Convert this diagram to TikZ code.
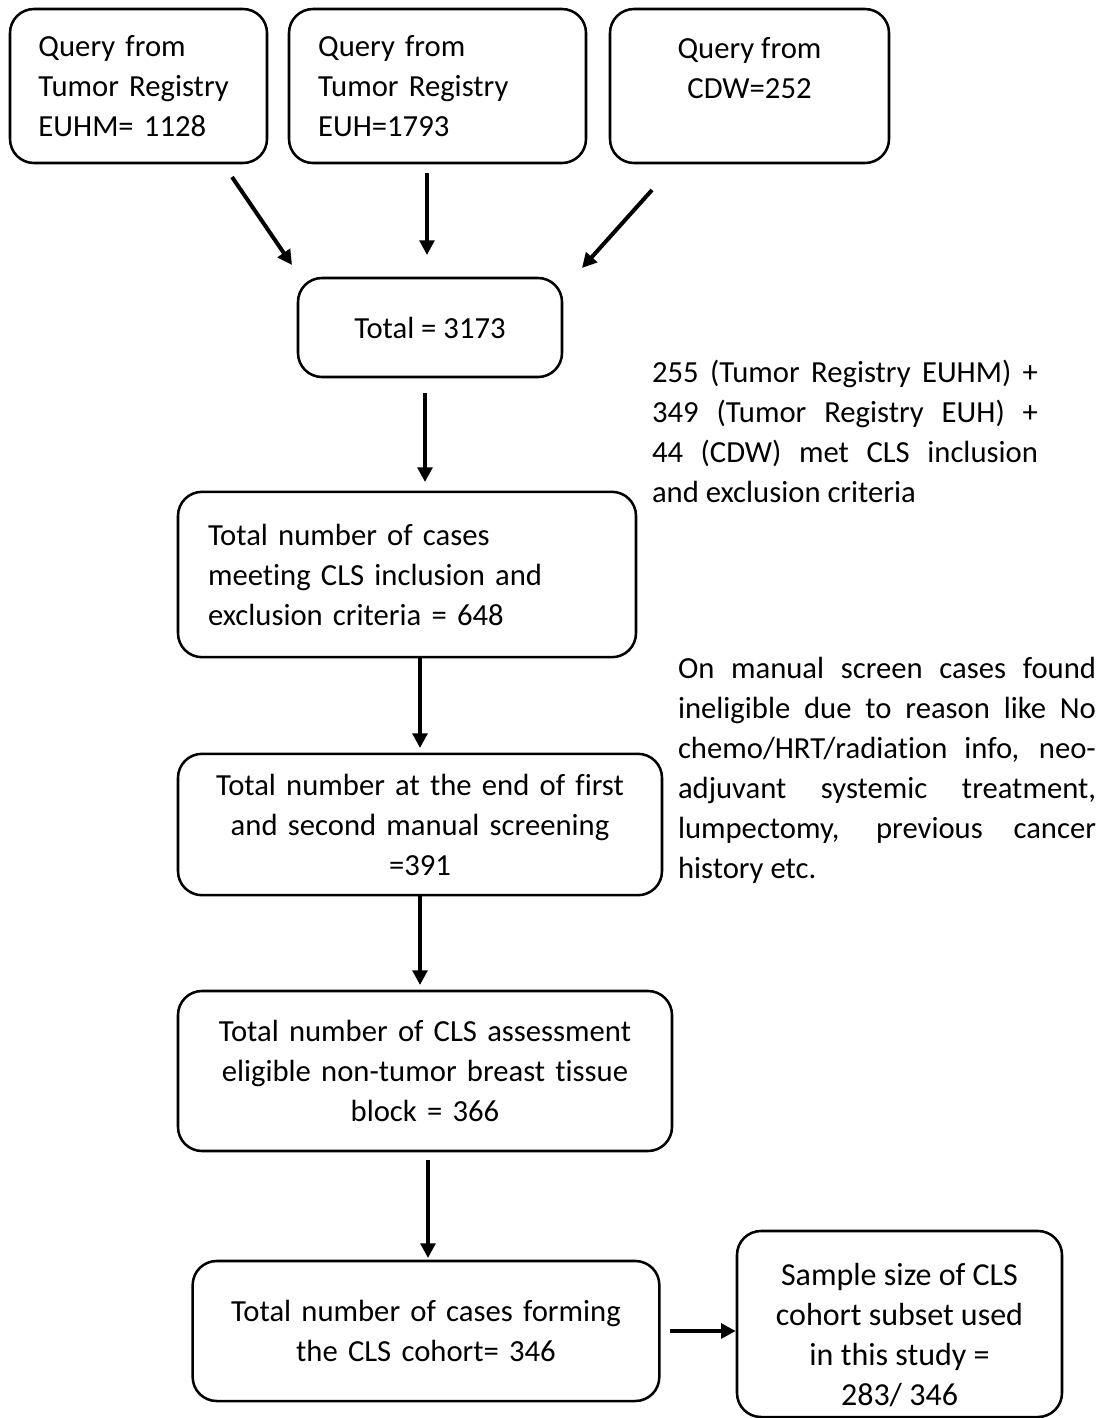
\documentclass[tikz,border=0pt]{standalone}
\usepackage{fontspec}
\setmainfont[Ligatures=NoCommon]{Carlito}
\usetikzlibrary{arrows.meta}
\usetikzlibrary{positioning}

\tikzset{
  flowbox/.style = {draw, line width=1.9pt, rounded corners=18pt, inner sep=0pt},
  flowarrow/.style = {line width=3pt, -{Triangle[length=11pt,width=11pt]}},
  sidenote/.style = {inner sep=0pt, align=justify},
  boxtext/.style = {align=center, font=\fontsize{23}{30}\selectfont}
}

\begin{document}
\begin{tikzpicture}[x=0.75pt, y=-0.75pt, font=\fontsize{23}{30}\selectfont]
      \useasboundingbox (0,0) rectangle (1108,1418);

      % query boxes
      \node[flowbox, minimum width=192.75pt, minimum height=115.5pt, text width=150pt, align=left] (qeuhm) at (138.5,86)
        {Query from\\Tumor Registry\\EUHM= 1128};
      \node[flowbox, minimum width=222.75pt, minimum height=115.5pt, text width=179pt, align=left] (qeuh) at (437.5,86)
        {Query from\\Tumor Registry\\EUH=1793};
      \node[flowbox, minimum width=209.25pt, minimum height=115.5pt,
            label={[boxtext, yshift=13.5pt]center:{Query from\\CDW=252}}] (qcdw) at (749.5,86) {};

      \node[flowbox, minimum width=198pt, minimum height=74.25pt] (total) at (430,327.5) {Total = 3173};

      \node[flowbox, minimum width=343.5pt, minimum height=124pt, text width=298.5pt, align=left] (meeting) at (407,574.5)
        {Total number of cases\\meeting CLS inclusion and\\exclusion criteria = 648};
      \node[flowbox, minimum width=363pt, minimum height=106pt, text width=340pt, align=center] (screening) at (420,824.5)
        {Total number at the end of first\\and second manual screening\\=391};
      \node[flowbox, minimum width=370.5pt, minimum height=120pt, text width=350pt, align=center] (eligible) at (425,1071)
        {Total number of CLS assessment\\eligible non-tumor breast tissue\\block = 366};
      \node[flowbox, minimum width=350pt, minimum height=105pt, text width=330pt, align=center] (cohort) at (426,1331)
        {Total number of cases forming\\the CLS cohort= 346};
      \node[flowbox, minimum width=243.75pt, minimum height=139.5pt,
            label={[boxtext, font=\fontsize{24}{30}\selectfont, yshift=-8.25pt]center:{Sample size of CLS\\cohort subset used\\in this study =\\283/ 346}}] (sample) at (899.5,1324) {};

      % notes on the right
      \node[sidenote, text width=289.5pt] (metnote) at (845,431)
        {255 (Tumor Registry EUHM) +\linebreak 349 (Tumor Registry EUH) +\linebreak 44 (CDW) met CLS inclusion\linebreak and exclusion criteria};
      \node[sidenote, text width=313.5pt] (screennote) at (887,770)
        {On manual screen cases found\linebreak ineligible due to reason like No\linebreak chemo/HRT/radiation info, neo-\linebreak adjuvant systemic treatment,\linebreak lumpectomy, previous cancer\linebreak history etc.};

      % arrow ends
      \coordinate (euhmA) at (232,177);  \coordinate (euhmB) at (292,265);
      \coordinate (euhA) at (427,173);   \coordinate (euhB) at (427,255);
      \coordinate (cdwA) at (652,190);   \coordinate (cdwB) at (582,268);
      \coordinate (totA) at (425,393);   \coordinate (totB) at (425,482);
      \coordinate (meetA) at (420,657);  \coordinate (meetB) at (420,748);
      \coordinate (scrA) at (420,895);   \coordinate (scrB) at (420,985);
      \coordinate (eligA) at (428,1160); \coordinate (eligB) at (428,1258);
      \coordinate (cohA) at (670,1331);

      \draw[flowarrow] (euhmA) -- (euhmB);
      \draw[flowarrow] (euhA) -- (euhB);
      \draw[flowarrow] (cdwA) -- (cdwB);
      \draw[flowarrow] (totA) -- (totB);
      \draw[flowarrow] (meetA) -- (meetB);
      \draw[flowarrow] (scrA) -- (scrB);
      \draw[flowarrow] (eligA) -- (eligB);
      \draw[flowarrow] (cohA) -- (cohA -| sample.west);
\end{tikzpicture}
\end{document}
